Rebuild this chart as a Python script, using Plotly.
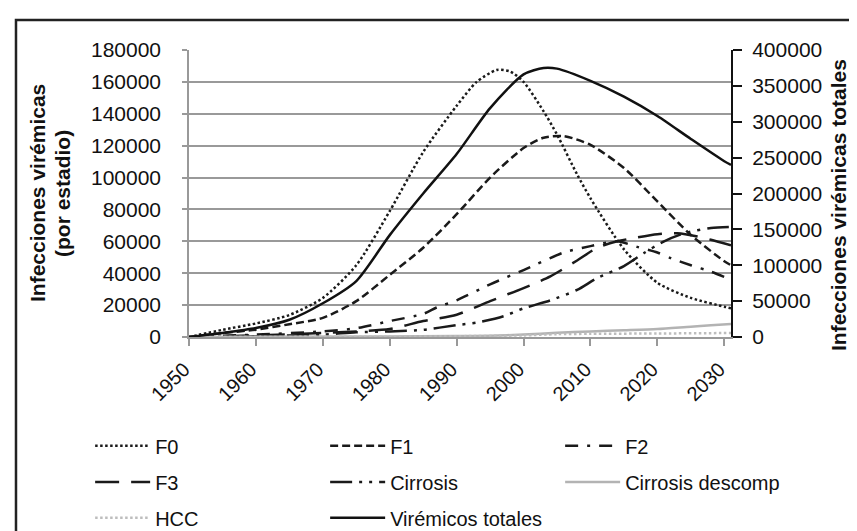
import plotly.graph_objects as go

# ---------------- data ----------------
years_f0 = [1950, 1955, 1960, 1965, 1970, 1975, 1980, 1985, 1990, 1993, 1996, 1998, 2000, 2003, 2005, 2008, 2010, 2015, 2020, 2025, 2030, 2031]
f0 = [0, 4500, 8500, 13800, 24500, 45000, 79000, 116000, 145000, 160000, 167500, 166500, 160000, 141500, 127000, 102000, 87000, 55000, 34000, 24500, 19000, 18000]

years_f1 = [1950, 1955, 1960, 1965, 1970, 1975, 1980, 1985, 1990, 1995, 2000, 2003, 2006, 2010, 2015, 2020, 2025, 2030, 2031]
f1 = [0, 2500, 4600, 8000, 12000, 22500, 39000, 56000, 77000, 100000, 118500, 125000, 126000, 120500, 106000, 85000, 64000, 47500, 45000]

years_f2 = [1950, 1960, 1970, 1975, 1980, 1985, 1987, 1990, 1995, 2000, 2006, 2010, 2014, 2017, 2020, 2022, 2025, 2028, 2031]
f2 = [0, 1500, 3500, 5500, 10000, 14500, 18500, 23000, 33000, 42000, 53000, 57000, 60000, 56500, 53000, 49500, 45000, 41000, 36000]

years_f3 = [1950, 1960, 1970, 1975, 1980, 1985, 1990, 1995, 2000, 2004, 2008, 2011, 2014, 2017, 2020, 2023, 2026, 2028, 2031]
f3 = [0, 1000, 2500, 3500, 5000, 10000, 14000, 22500, 30700, 38000, 48000, 56000, 60000, 62500, 64500, 65000, 63000, 61000, 57500]

years_cir = [1950, 1960, 1970, 1975, 1980, 1985, 1990, 1993, 1997, 2000, 2004, 2008, 2011, 2015, 2018, 2021, 2024, 2028, 2031]
cirrosis = [0, 500, 1500, 3000, 3500, 4500, 7500, 9000, 13000, 18000, 23000, 29500, 37000, 44500, 52700, 60000, 65000, 68400, 69000]

years_desc = [1950, 1980, 1990, 1995, 2000, 2005, 2010, 2015, 2020, 2025, 2028, 2031]
cirrosis_descomp = [0, 300, 600, 800, 1500, 2700, 3500, 4200, 5000, 6500, 7300, 8100]

years_hcc = [1950, 1980, 1990, 2000, 2005, 2010, 2020, 2031]
hcc = [0, 200, 500, 1000, 1800, 2000, 2200, 2500]

years_total = [1950, 1955, 1960, 1965, 1970, 1975, 1980, 1985, 1990, 1995, 2000, 2003, 2005, 2010, 2015, 2020, 2025, 2030, 2031]
viremicos_totales = [0, 5600, 12500, 24000, 47000, 78000, 142000, 200000, 255000, 319000, 366000, 375000, 374000, 357000, 335000, 308000, 276000, 245000, 240000]

x_ticks = [1950, 1960, 1970, 1980, 1990, 2000, 2010, 2020, 2030]
x_tick_labels = ["1950", "1960", "1970", "1980", "1990", "2000", "2010", "2020", "2030"]
left_ticks = [0, 20000, 40000, 60000, 80000, 100000, 120000, 140000, 160000, 180000]
right_ticks = [0, 50000, 100000, 150000, 200000, 250000, 300000, 350000, 400000]

FONT = "Liberation Sans, Arial, sans-serif"

fig = go.Figure()

def add(xs, ys, name, color, width, dash, legend, yaxis="y"):
    fig.add_trace(go.Scatter(
        x=xs, y=ys, name=name, mode="lines",
        line=dict(color=color, width=width, dash=dash, shape="spline", smoothing=0.7),
        legend=legend, yaxis=yaxis, hoverinfo="skip",
    ))

add(years_f0, f0, "F0", "#1a1a1a", 2.5, "2.5px,2.5px", "legend")
add(years_f1, f1, "F1", "#1a1a1a", 2.5, "8px,4px", "legend")
add(years_f2, f2, "F2", "#1a1a1a", 2.5, "13px,9px,3px,9px", "legend")
add(years_f3, f3, "F3", "#1a1a1a", 2.5, "24px,12px", "legend2")
add(years_cir, cirrosis, "Cirrosis", "#1a1a1a", 2.5, "22px,7px,3px,7px,3px,7px", "legend2")
add(years_desc, cirrosis_descomp, "Cirrosis descomp", "#b3b3b3", 2.5, "solid", "legend2")
add(years_hcc, hcc, "HCC", "#bdbdbd", 2.5, "2.5px,2.5px", "legend3")
add(years_total, viremicos_totales, "Virémicos totales", "#111111", 2.5, "solid", "legend3", yaxis="y2")

leg_common = dict(orientation="h", xanchor="left", yanchor="middle",
                  font=dict(family=FONT, size=20, color="#111"),
                  itemwidth=55,
                  entrywidth=165, entrywidthmode="pixels",
                  bgcolor="rgba(0,0,0,0)", tracegroupgap=0)

LX = -0.1824
fig.update_layout(
    width=857, height=531,
    margin=dict(l=181, r=134, t=42, b=202, autoexpand=False),
    paper_bgcolor="white", plot_bgcolor="white",
    font=dict(family=FONT, size=21, color="#111"),
    showlegend=True,
    legend=dict(x=LX, y=-0.379, **leg_common),
    legend2=dict(x=LX, y=-0.505, **leg_common),
    legend3=dict(x=LX, y=-0.630, **leg_common),
    xaxis=dict(
        range=[1950, 2031], tickvals=x_ticks, ticktext=x_tick_labels, tickangle=-45,
        showgrid=False, zeroline=False, showline=True, linecolor="#999999", linewidth=1.5,
        ticks="outside", ticklen=7, tickwidth=1.5, tickcolor="#999999",
        ticklabelstandoff=4, ticklabelshift=-5,
        tickfont=dict(family=FONT, size=20, color="#111"),
    ),
    yaxis=dict(
        range=[0, 180000], tickvals=left_ticks, ticktext=[str(v) for v in left_ticks],
        showgrid=True, gridcolor="#999999", gridwidth=1.5, zeroline=False,
        showline=True, linecolor="#999999", linewidth=1.5,
        ticks="outside", ticklen=5, tickwidth=1.5, tickcolor="#999999",
        ticklabelstandoff=17,
        tickfont=dict(family=FONT, size=21, color="#111"),
    ),
    yaxis2=dict(
        range=[0, 400000], tickvals=right_ticks, ticktext=[str(v) for v in right_ticks],
        overlaying="y", side="right", showgrid=False, zeroline=False,
        showline=True, linecolor="#111", linewidth=2,
        ticks="outside", ticklen=9, tickwidth=2, tickcolor="#111",
        ticklabelstandoff=6,
        tickfont=dict(family=FONT, size=21, color="#111"),
    ),
    annotations=[
        dict(text="<b>Infecciones virémicas</b>", xref="paper", yref="paper",
             x=(29.5 - 181) / 542, y=0.5, xanchor="center", yanchor="middle", textangle=-90,
             showarrow=False, font=dict(family=FONT, size=21, color="#111")),
        dict(text="<b>(por estadio)</b>", xref="paper", yref="paper",
             x=(54.5 - 181) / 542, y=0.5, xanchor="center", yanchor="middle", textangle=-90,
             showarrow=False, font=dict(family=FONT, size=21, color="#111")),
        dict(text="<b>Infecciones virémicas totales</b>", xref="paper", yref="paper",
             x=(831 - 181) / 542, y=0.46, xanchor="center", yanchor="middle", textangle=-90,
             showarrow=False, font=dict(family=FONT, size=21, color="#111")),
    ],
    shapes=[
        dict(type="rect", xref="paper", yref="paper", x0=-0.3192, x1=2.0, y0=-2.0, y1=1.1045,
             line=dict(color="#222222", width=2.5), fillcolor="rgba(0,0,0,0)", layer="above"),
    ],
)

fig.write_html("out.html")
